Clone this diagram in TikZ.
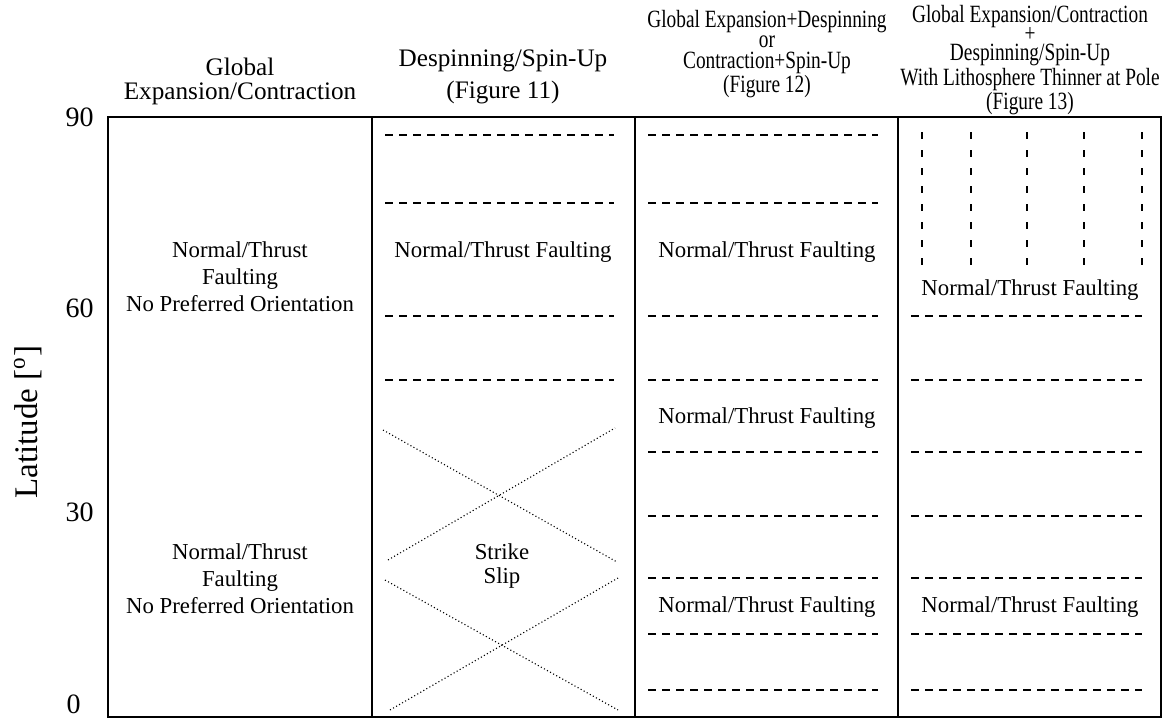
\documentclass[tikz,border=0pt]{standalone}
\usepackage{fontspec}
\setmainfont{Liberation Serif}
\newfontfamily\narrowserif[FakeStretch=0.78]{Liberation Serif}

\begin{document}
\begin{tikzpicture}[x=0.5pt,y=-0.5pt,
  frame/.style={line width=1pt},
  fault/.style={line width=0.75pt,dash pattern=on 4pt off 3pt},
  polefault/.style={line width=1.1pt,dash pattern=on 3.5pt off 5.5pt},
  slipline/.style={line width=0.55pt,dash pattern=on 0.55pt off 1.2pt},
  regime/.style={align=center,inner sep=0pt,font=\fontsize{11.4}{13.5}\selectfont},
  colhead/.style={align=center,inner sep=0pt,font=\fontsize{12.6}{12}\selectfont},
  narrowhead/.style={align=center,inner sep=0pt,font=\narrowserif\fontsize{12.4}{10.2}\selectfont},
  latnum/.style={anchor=east,inner sep=0pt,font=\fontsize{14}{14}\selectfont}]
\useasboundingbox (0,0) rectangle (1173,719);

% column heads
\path ( 240, 81) node (headA) [colhead]    {Global\\Expansion/Contraction};
\path ( 503, 77) node (headB) [colhead]    {Despinning/Spin-Up\\[4pt](Figure 11)};
\path ( 767, 54) node (headC) [narrowhead] {Global Expansion+Despinning\\or\\Contraction+Spin-Up\\(Figure 12)};
\path (1030, 60) node (headD) [narrowhead,font=\narrowserif\fontsize{12.4}{9.7}\selectfont]
  {Global Expansion/Contraction\\+\\Despinning/Spin-Up\\With Lithosphere Thinner at Pole\\(Figure 13)};

% latitude axis
\path ( 94,117) node (lat90) [latnum] {90};
\path ( 94,308) node (lat60) [latnum] {60};
\path ( 94,512) node (lat30) [latnum] {30};
\path ( 81,704) node (lat0)  [latnum] {0};
\path ( 28,422) node (latname) [rotate=90,font=\fontsize{16.5}{16.5}\selectfont] {Latitude [\textsuperscript{o}]};

% frame and columns
\draw [frame] (108,117) rectangle (1161,717);
\draw [frame] (372,117) -- (372,717);
\draw [frame] (635,117) -- (635,717);
\draw [frame] (898,117) -- (898,717);

% despinning column
\draw [fault] (385,135) -- (614,135);
\draw [fault] (385,203) -- (614,203);
\draw [fault] (385,316) -- (614,316);
\draw [fault] (385,380) -- (614,380);
\draw [slipline] (383,430) -- (617,562);
\draw [slipline] (388,560) -- (615,428);
\draw [slipline] (385,580) -- (618,710);
\draw [slipline] (390,710) -- (618,578);

% expansion+despinning column
\draw [fault] (648,135) -- (878,135);
\draw [fault] (648,203) -- (878,203);
\draw [fault] (648,316) -- (878,316);
\draw [fault] (648,380) -- (878,380);
\draw [fault] (648,452) -- (878,452);
\draw [fault] (648,516) -- (878,516);
\draw [fault] (648,578) -- (878,578);
\draw [fault] (648,634) -- (878,634);
\draw [fault] (648,690) -- (878,690);

% thin pole column
\draw [polefault] ( 922,132) -- ( 922,268);
\draw [polefault] ( 971,132) -- ( 971,268);
\draw [polefault] (1027,132) -- (1027,268);
\draw [polefault] (1084,132) -- (1084,268);
\draw [polefault] (1142,132) -- (1142,268);
\draw [fault] (911,316) -- (1142,316);
\draw [fault] (911,380) -- (1142,380);
\draw [fault] (911,452) -- (1142,452);
\draw [fault] (911,516) -- (1142,516);
\draw [fault] (911,578) -- (1142,578);
\draw [fault] (911,634) -- (1142,634);
\draw [fault] (911,690) -- (1142,690);

% regimes
\path ( 240,277) node (globalN) [regime] {Normal/Thrust\\Faulting\\No Preferred Orientation};
\path ( 240,579) node (globalS) [regime] {Normal/Thrust\\Faulting\\No Preferred Orientation};
\path ( 503,252) node (spinN)   [regime] {Normal/Thrust Faulting};
\path ( 502,566) node (spinS)   [regime,font=\fontsize{11.4}{12}\selectfont] {Strike\\Slip};
\path ( 767,252) node (mixN)    [regime] {Normal/Thrust Faulting};
\path ( 767,418) node (mixM)    [regime] {Normal/Thrust Faulting};
\path ( 767,607) node (mixS)    [regime] {Normal/Thrust Faulting};
\path (1030,290) node (poleN)   [regime] {Normal/Thrust Faulting};
\path (1030,607) node (poleS)   [regime] {Normal/Thrust Faulting};
\end{tikzpicture}
\end{document}
